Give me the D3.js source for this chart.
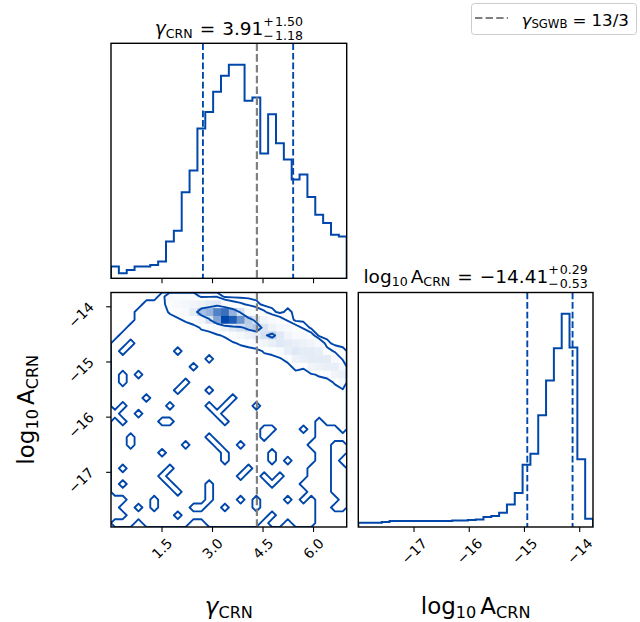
<!DOCTYPE html>
<html>
<head>
<meta charset="utf-8">
<script src="https://cdn.jsdelivr.net/npm/d3@7"></script>
<style>
  body { margin: 0; background: #fff; }
  svg { display: block; }
  text { font-family: "DejaVu Sans", sans-serif; }
</style>
</head>
<body>
<script>
// ---- data ----
const gammaRange = [0, 7];
const logARange = [-18, -13.75];
const gammaTicks = [1.5, 3.0, 4.5, 6.0];
const gammaTickLabels = ["1.5", "3.0", "4.5", "6.0"];
const logATicks = [-17, -16, -15, -14];
const logATickLabels = ["\u221217", "\u221216", "\u221215", "\u221214"];

// 1D histograms, 30 bins each
const gammaCounts = [35, 15, 25, 35, 35, 40, 50, 110, 142, 257, 322, 447, 497, 557, 605,
                     638, 638, 530, 540, 373, 490, 403, 355, 295, 310, 243, 190, 165, 130, 125];
const logACounts = [13, 13, 13, 15, 18, 18, 18, 18, 18, 18, 18, 18, 20, 20, 21,
                    23, 30, 33, 43, 68, 103, 188, 222, 338, 443, 541, 645, 543, 205, 25];

const gammaQuantiles = [2.73, 5.41];     // 3.91 -1.18 +1.50
const logAQuantiles = [-14.94, -14.12];  // -14.41 -0.53 +0.29
const gammaTruth = 13 / 3;

// 2D histogram, 30x30, row 0 = highest log10 A; one char per cell (base 36)
const hist2d = [
  "00000 01655 42220 00000 00000 00000",
  "00001 11567 89bc6 43210 00000 00000",
  "00011 11346 bkmsu me653 10100 00000",
  "00011 11123 58eoy wqid8 64200 00000",
  "00111 11111 13469 cehjd 97642 00000",
  "01111 11111 11123 579be hc866 40000",
  "11011 11111 11111 23468 acba9 86100",
  "10111 11101 11111 11113 46acb ba421",
  "11111 11111 11011 11111 1249a bbb62",
  "11111 11111 01111 11111 11143 89aa6",
  "10101 11111 11111 11111 11111 23489",
  "10111 11110 11111 11111 11111 11136",
  "11111 11101 11011 11111 11111 11112",
  "11110 11111 11111 01111 11111 11111",
  "10111 11011 11010 11101 11111 11111",
  "01101 11111 11101 11111 11111 11111",
  "10111 10011 11110 11111 11111 10111",
  "11111 11111 11111 11110 01110 10001",
  "11011 11111 11011 11110 11111 10000",
  "11011 11110 11101 10111 11111 00011",
  "11111 10111 11110 11111 01111 10011",
  "11111 11111 11110 11111 01011 10010",
  "10111 11011 11111 11011 11111 00011",
  "11111 10111 11111 10110 10111 00011",
  "10111 11011 11011 11111 01110 00011",
  "11111 11101 11011 11111 11111 00011",
  "00111 01111 11011 10101 11010 10001",
  "01101 01111 00110 11101 11111 10011",
  "00111 11101 11111 11111 01111 10000",
  "11101 11111 00111 11110 11011 10000"
];
const contourLevels = [0.5, 2.5, 15];

// ---- layout ----
const blue = "#0047ab";
const grey = "#808080";
const fsTick = 13.9;
const fsTitle = 18.5;
const fsLabel = 23;

const boxTop = {x0: 111, x1: 346.7, y0: 43.3, y1: 278.3};
const boxMid = {x0: 111, x1: 346.7, y0: 292.5, y1: 527};
const boxSide = {x0: 358.3, x1: 593, y0: 292.5, y1: 527};

const svg = d3.select("body").append("svg")
    .attr("width", 640)
    .attr("height", 622);

const xG = d3.scaleLinear().domain(gammaRange).range([boxTop.x0, boxTop.x1]);
const xA = d3.scaleLinear().domain(logARange).range([boxSide.x0, boxSide.x1]);
const yA = d3.scaleLinear().domain(logARange).range([boxMid.y1, boxMid.y0]);

function clipFor(id, b) {
	svg.append("clipPath").attr("id", id)
		.append("rect")
		.attr("x", b.x0).attr("y", b.y0)
		.attr("width", b.x1 - b.x0).attr("height", b.y1 - b.y0);
	return svg.append("g").attr("clip-path", "url(#" + id + ")");
}

function frame(b) {
	svg.append("rect")
		.attr("x", b.x0).attr("y", b.y0)
		.attr("width", b.x1 - b.x0).attr("height", b.y1 - b.y0)
		.attr("fill", "none").attr("stroke", "#000").attr("stroke-width", 1.4);
}

function vline(g, b, x, color, width, dash) {
	g.append("line")
		.attr("x1", x).attr("x2", x).attr("y1", b.y0).attr("y2", b.y1)
		.attr("stroke", color).attr("stroke-width", width)
		.attr("stroke-dasharray", dash);
}

// step histogram
function drawHist(b, counts, range, xs, quant, truth, id) {
	let g = clipFor(id, b);
	let n = counts.length;
	let edges = d3.range(n + 1).map(i => range[0] + i * (range[1] - range[0]) / n);
	let ys = d3.scaleLinear().domain([0, 1.1 * d3.max(counts)]).range([b.y1, b.y0]);
	let pts = [[edges[0], 0]]
		.concat(counts.map((c, i) => [edges[i], c]))
		.concat([[edges[n], counts[n - 1]], [edges[n], 0]]);
	let line = d3.line()
		.x(d => xs(d[0]))
		.y(d => ys(d[1]))
		.curve(d3.curveStepAfter);
	g.append("path").attr("d", line(pts))
		.attr("fill", "none").attr("stroke", blue).attr("stroke-width", 2);
	quant.forEach(q => vline(g, b, xs(q), blue, 1.9, "6.7,2.9"));
	if (truth != null) vline(g, b, xs(truth), grey, 2.2, "7.6,3.2");
}

// 2D panel: density cells + contours
function draw2d() {
	let g = clipFor("clipMid", boxMid);
	let rows = hist2d.map(r => r.replace(/ /g, "").split("").map(c => parseInt(c, 36)));
	let ny = rows.length, nx = rows[0].length;
	let values = rows.flat();
	let vmax = d3.max(values);
	let gx = d3.scaleLinear().domain([0, nx]).range(gammaRange);
	let gy = d3.scaleLinear().domain([0, ny]).range([logARange[1], logARange[0]]);
	let shade = d3.interpolateRgb("#ffffff", blue);

	rows.forEach((r, j) => r.forEach((v, i) => {
		let t = (v / vmax) * (v / vmax);
		if (t < 0.004) return;
		g.append("rect")
			.attr("x", xG(gx(i))).attr("y", yA(gy(j)))
			.attr("width", xG(gx(i + 1)) - xG(gx(i)) + 0.3)
			.attr("height", yA(gy(j + 1)) - yA(gy(j)) + 0.3)
			.attr("fill", shade(t));
	}));

	let proj = d3.geoTransform({
		point: function(px, py) { this.stream.point(xG(gx(px)), yA(gy(py))); }
	});
	let path = d3.geoPath(proj);
	let cs = d3.contours().size([nx, ny]).thresholds(contourLevels)(values);
	g.selectAll("path.ct").data(cs).enter().append("path")
		.attr("class", "ct")
		.attr("d", path)
		.attr("fill", "none")
		.attr("stroke", blue)
		.attr("stroke-width", 1.9)
		.attr("stroke-linejoin", "round");

	vline(g, boxMid, xG(gammaTruth), grey, 2.2, "7.6,3.2");
}

// math-like label made of pieces: {t, k (size factor), dy, it} / {gap} / {stack:[sup, sub]}
function drawMath(parent, x, y, fs, pieces, anchor) {
	let grp = parent.append("g");
	function run(list, x0) {
		let px = x0;
		list.forEach(p => {
			if (p.gap != null) { px += p.gap; return; }
			let t = grp.append("text")
				.attr("x", px).attr("y", p.dy || 0)
				.attr("font-size", fs * (p.k || 1))
				.attr("fill", "#000")
				.text(p.t);
			if (p.it) t.attr("font-style", "italic");
			px += t.node().getComputedTextLength();
		});
		return px;
	}
	let cx = 0;
	pieces.forEach(p => {
		if (p.stack) cx = Math.max(run(p.stack[0], cx), run(p.stack[1], cx));
		else cx = run([p], cx);
	});
	let off = anchor === "middle" ? -cx / 2 : 0;
	grp.attr("transform", "translate(" + (x + off) + "," + y + ")");
	return grp;
}

function bottomAxis(b, xs, ticks, labels) {
	let ax = svg.append("g")
		.attr("transform", "translate(0," + b.y1 + ")")
		.call(d3.axisBottom(xs).tickValues(ticks).tickSize(4.9)
			.tickFormat((d, i) => labels ? labels[i] : ""));
	ax.select(".domain").remove();
	ax.selectAll(".tick line").attr("stroke", "#000").attr("stroke-width", 1.1);
	ax.selectAll(".tick text").each(function() {
		let txt = d3.select(this)
			.attr("font-size", fsTick).attr("font-family", "DejaVu Sans, sans-serif")
			.attr("fill", "#000").attr("dy", null).attr("y", null)
			.attr("text-anchor", "middle").attr("dominant-baseline", "central");
		let w = this.getComputedTextLength();
		let s = (w + 0.75 * fsTick) / Math.SQRT2;
		txt.attr("transform", "translate(0," + (10 + s / 2) + ") rotate(-45)");
	});
}

function leftAxis(b, ys, ticks, labels) {
	let ax = svg.append("g")
		.attr("transform", "translate(" + b.x0 + ",0)")
		.call(d3.axisLeft(ys).tickValues(ticks).tickSize(4.9)
			.tickFormat((d, i) => labels[i]));
	ax.select(".domain").remove();
	ax.selectAll(".tick line").attr("stroke", "#000").attr("stroke-width", 1.1);
	ax.selectAll(".tick text").each(function() {
		let txt = d3.select(this)
			.attr("font-size", fsTick).attr("font-family", "DejaVu Sans, sans-serif")
			.attr("fill", "#000").attr("dy", null).attr("x", null)
			.attr("text-anchor", "middle").attr("dominant-baseline", "central");
		let w = this.getComputedTextLength();
		let s = (w + 0.75 * fsTick) / Math.SQRT2;
		txt.attr("transform", "translate(" + (-16 - s / 2) + ",8) rotate(-45)");
	});
}

// ---- draw ----
drawHist(boxTop, gammaCounts, gammaRange, xG, gammaQuantiles, gammaTruth, "clipTop");
drawHist(boxSide, logACounts, logARange, xA, logAQuantiles, null, "clipSide");
draw2d();

frame(boxTop);
frame(boxMid);
frame(boxSide);

bottomAxis(boxTop, xG, gammaTicks, null);
bottomAxis(boxMid, xG, gammaTicks, gammaTickLabels);
bottomAxis(boxSide, xA, logATicks, logATickLabels);
leftAxis(boxMid, yA, logATicks, logATickLabels);

// titles
const sub = 0.68;
drawMath(svg, (boxTop.x0 + boxTop.x1) / 2, 35, fsTitle, [
	{t: "\u03b3", it: true}, {t: "CRN", k: sub, dy: 2.5}, {gap: 7}, {t: "="}, {gap: 7},
	{t: "3.91"},
	{stack: [[{t: "+", k: sub, dy: -9.5}, {gap: 1}, {t: "1.50", k: sub, dy: -9.5}],
	         [{t: "\u2212", k: sub, dy: 4.7}, {gap: 1}, {t: "1.18", k: sub, dy: 4.7}]]}
], "middle");

drawMath(svg, (boxSide.x0 + boxSide.x1) / 2, 283, fsTitle, [
	{t: "log"}, {t: "10", k: sub, dy: 2.5}, {gap: 3}, {t: "A"}, {t: "CRN", k: sub, dy: 2.5},
	{gap: 7}, {t: "="}, {gap: 7}, {t: "\u221214.41"},
	{stack: [[{t: "+", k: sub, dy: -9.5}, {gap: 1}, {t: "0.29", k: sub, dy: -9.5}],
	         [{t: "\u2212", k: sub, dy: 4.7}, {gap: 1}, {t: "0.53", k: sub, dy: 4.7}]]}
], "middle");

// axis labels
drawMath(svg, (boxMid.x0 + boxMid.x1) / 2, 614, fsLabel, [
	{t: "\u03b3", it: true}, {t: "CRN", k: 0.7, dy: 3.5}
], "middle");
drawMath(svg, (boxSide.x0 + boxSide.x1) / 2, 614, fsLabel, [
	{t: "log"}, {t: "10", k: 0.7, dy: 3.5}, {gap: 4}, {t: "A"}, {t: "CRN", k: 0.7, dy: 3.5}
], "middle");
const yLab = svg.append("g").attr("transform", "translate(34," + (boxMid.y0 + boxMid.y1) / 2 + ") rotate(-90)");
drawMath(yLab, 0, 0, fsLabel, [
	{t: "log"}, {t: "10", k: 0.7, dy: 3.5}, {gap: 4}, {t: "A"}, {t: "CRN", k: 0.7, dy: 3.5}
], "middle");

// legend
const lg = svg.append("g");
lg.append("rect")
	.attr("x", 471.5).attr("y", 3.5).attr("width", 165).attr("height", 31).attr("rx", 3)
	.attr("fill", "#fff").attr("fill-opacity", 0.8)
	.attr("stroke", "#cccccc").attr("stroke-width", 1);
lg.append("line")
	.attr("x1", 475).attr("x2", 508).attr("y1", 18).attr("y2", 18)
	.attr("stroke", grey).attr("stroke-width", 2).attr("stroke-dasharray", "7.4,3.2");
drawMath(lg, 521.5, 25.5, 16.7, [
	{t: "\u03b3", it: true}, {t: "SGWB", k: 0.7, dy: 2.5}, {gap: 5}, {t: "="}, {gap: 5}, {t: "13/3"}
], "start");
</script>
</body>
</html>
